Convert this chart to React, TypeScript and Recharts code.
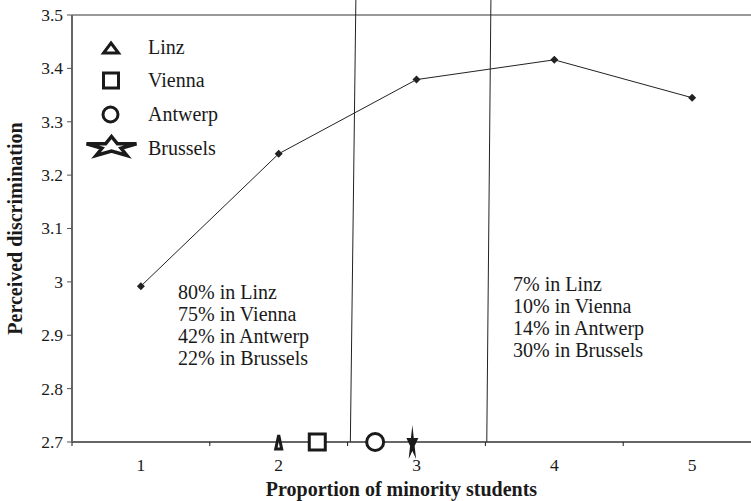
import React from 'react';
import { ComposedChart, Line, Scatter, XAxis, YAxis, ReferenceLine } from 'recharts';

const proportions = [1, 2, 3, 4, 5];
const discrimination = [2.992, 3.24, 3.379, 3.416, 3.345];
const yTicks = [2.7, 2.8, 2.9, 3, 3.1, 3.2, 3.3, 3.4, 3.5];
const cities = ['Linz', 'Vienna', 'Antwerp', 'Brussels'];
const cityShapes = ['triangle', 'square', 'circle', 'star'];
const cityProportions = [2.0, 2.28, 2.7, 2.97];
const lowGroupShares = ['80%', '75%', '42%', '22%'];
const highGroupShares = ['7%', '10%', '14%', '30%'];
const dividerBottoms = [2.52, 3.51];
const dividerTops = [2.56, 3.54];

const FONT = '"Liberation Serif", "Times New Roman", serif';
const INK = '#1a1a1a';

const lineData = proportions.map((x, i) => ({ x, y: discrimination[i] }));
const cityData = cities.map((name, i) => ({ name, shape: cityShapes[i], x: cityProportions[i], y: 2.7 }));
const xTicks = [0.5, ...proportions.flatMap((p) => [p, p + 0.5])];

function starPoints(cx: number, cy: number, w: number, h: number) {
  const raw: [number, number][] = [];
  for (let i = 0; i < 10; i++) {
    const r = i % 2 === 0 ? 1 : 0.382;
    const a = -Math.PI / 2 + (i * Math.PI) / 5;
    raw.push([r * Math.cos(a), r * Math.sin(a)]);
  }
  // outer extents of a unit star: x +-0.951, y -1 .. 0.809
  return raw
    .map(([x, y]) => `${cx + (x / 0.951) * (w / 2)},${cy + ((y + 0.0955) / 0.9045) * (h / 2)}`)
    .join(' ');
}

function Marker({ kind, cx, cy, w, h, filled }: { kind: string; cx: number; cy: number; w: number; h: number; filled?: boolean }) {
  const stroke = { stroke: INK, strokeWidth: 3, fill: '#fff' };
  if (kind === 'triangle')
    return <polygon points={`${cx},${cy - h / 2} ${cx + w / 2},${cy + h / 2} ${cx - w / 2},${cy + h / 2}`} {...stroke} />;
  if (kind === 'square') return <rect x={cx - w / 2} y={cy - h / 2} width={w} height={h} {...stroke} />;
  if (kind === 'circle') return <ellipse cx={cx} cy={cy} rx={w / 2} ry={h / 2} {...stroke} />;
  return filled ? (
    <polygon points={starPoints(cx, cy, w, h)} fill={INK} />
  ) : (
    <polygon points={starPoints(cx, cy, w, h)} stroke={INK} strokeWidth={3.5} fill="#fff" strokeLinejoin="miter" />
  );
}

const axisSizes: Record<string, [number, number]> = {
  triangle: [6, 14],
  square: [16, 16],
  circle: [17, 17],
  star: [12, 34]
};

function CityShape(props: any) {
  const { cx, cy, payload } = props;
  const [w, h] = axisSizes[payload.shape];
  return <Marker kind={payload.shape} cx={cx} cy={cy} w={w} h={h} filled />;
}

function Diamond(props: any) {
  const { cx, cy, index } = props;
  const r = 4;
  return <polygon key={index} points={`${cx},${cy - r} ${cx + r},${cy} ${cx},${cy + r} ${cx - r},${cy}`} fill="#222" />;
}

function XTick({ x, y, payload }: any) {
  const v = payload.value;
  if (Number.isInteger(v))
    return (
      <text x={x} y={y + 29} textAnchor="middle" style={{ fontSize: 17.5, fontFamily: FONT, fill: INK }}>
        {v}
      </text>
    );
  return <line x1={x} x2={x} y1={y} y2={y + 4} stroke={INK} strokeWidth={1} />;
}

function YTick({ x, y, payload }: any) {
  return (
    <text x={x} y={y} dy="0.34em" textAnchor="end" style={{ fontSize: 17.5, fontFamily: FONT, fill: INK }}>
      {payload.value}
    </text>
  );
}

const legendSizes: Record<string, [number, number, number, number]> = {
  triangle: [111, 48, 15, 10],
  square: [111, 80.5, 15, 15],
  circle: [110.5, 114.5, 15, 15],
  star: [111.5, 146, 50, 19]
};
const legendBaselines = [54, 87, 121, 155];
const lowBaselines = [299, 321, 343, 365];
const highBaselines = [291, 313, 335, 357];

export default function App() {
  return (
    <div
      style={{
        position: 'fixed',
        left: 0,
        top: 0,
        width: 751,
        height: 501,
        overflow: 'hidden',
        background: '#fff',
        fontFamily: FONT
      }}
    >
      <ComposedChart width={770} height={501} data={lineData} margin={{ top: 15, right: 9, bottom: 0, left: 0 }}>
        <XAxis
          dataKey="x"
          type="number"
          domain={[0.5, 5.5]}
          ticks={xTicks}
          interval={0}
          height={59}
          tickSize={0}
          tickMargin={0}
          tickLine={false}
          tick={<XTick />}
          axisLine={{ stroke: '#333', strokeWidth: 1.5 }}
          label={{
            value: 'Proportion of minority students',
            position: 'insideBottom',
            offset: 5,
            dx: -15,
            style: { fontFamily: FONT, fontWeight: 'bold', fontSize: 20, fill: INK }
          }}
        />
        <YAxis
          type="number"
          domain={[2.7, 3.5]}
          ticks={yTicks}
          interval={0}
          width={72}
          tickSize={5}
          tickMargin={4}
          axisLine={{ stroke: '#666', strokeWidth: 2 }}
          tickLine={{ stroke: '#555', strokeWidth: 1 }}
          tick={<YTick />}
          label={{
            value: 'Perceived discrimination',
            angle: -90,
            position: 'insideLeft',
            offset: 15,
            style: { textAnchor: 'middle', fontFamily: FONT, fontWeight: 'bold', fontSize: 20, fill: INK }
          }}
        />
        <ReferenceLine y={3.5} stroke="#999" strokeWidth={2} />
        {dividerBottoms.map((b, i) => (
          <ReferenceLine
            key={i}
            segment={[
              { x: b, y: 2.7 },
              { x: dividerTops[i], y: 3.528 }
            ]}
            stroke="#222"
            strokeWidth={1}
            ifOverflow="visible"
          />
        ))}
        <Line dataKey="y" stroke="#222" strokeWidth={1} dot={Diamond} activeDot={false} isAnimationActive={false} />
        <Scatter data={cityData} dataKey="y" shape={CityShape} isAnimationActive={false} />
      </ComposedChart>
      <svg width={751} height={501} style={{ position: 'absolute', left: 0, top: 0, pointerEvents: 'none' }}>
        {cities.map((c, i) => {
          const [cx, cy, w, h] = legendSizes[cityShapes[i]];
          return (
            <g key={c}>
              <Marker kind={cityShapes[i]} cx={cx} cy={cy} w={w} h={h} />
              <text x={148} y={legendBaselines[i]} fontFamily={FONT} fontSize={20} fill={INK}>
                {c}
              </text>
            </g>
          );
        })}
        {cities.map((c, i) => (
          <text key={'l' + c} x={178} y={lowBaselines[i]} fontFamily={FONT} fontSize={20} fill={INK}>
            {`${lowGroupShares[i]} in ${c}`}
          </text>
        ))}
        {cities.map((c, i) => (
          <text key={'h' + c} x={513} y={highBaselines[i]} fontFamily={FONT} fontSize={20} fill={INK}>
            {`${highGroupShares[i]} in ${c}`}
          </text>
        ))}
      </svg>
    </div>
  );
}
